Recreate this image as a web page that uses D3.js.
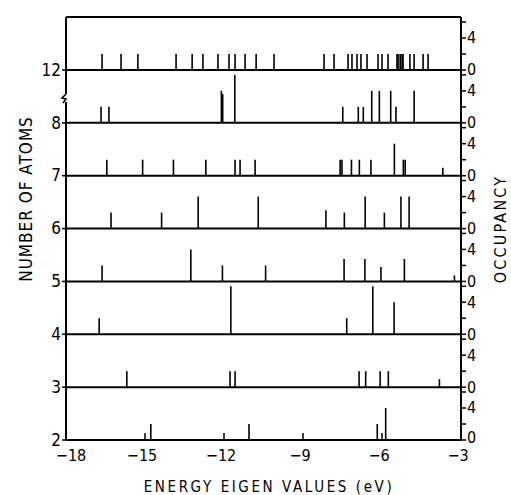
<!DOCTYPE html>
<html><head><meta charset="utf-8">
<script src="https://cdn.jsdelivr.net/npm/d3@7"></script>
<style>
html,body{margin:0;padding:0;background:#fff;}
svg{display:block;}
text{font-family:"Liberation Sans Narrow","DejaVu Sans Condensed","Liberation Sans",sans-serif;fill:#000;}
</style></head>
<body>
<svg id="chart" width="511" height="495"></svg>
<script>
// ---- data ----
const panels = ["12","8","7","6","5","4","3","2"];
const xTicks = [-18,-15,-12,-9,-6,-3];
const occTicks = [0,2,4,6];
const occLabels = [0,4];

const energy12 = [-16.63,-15.91,-15.27,-13.82,-13.21,-12.80,-12.23,-11.81,-11.58,-11.20,-10.78,-10.10,-8.20,-7.82,-7.29,-7.14,-6.95,-6.80,-6.57,-6.15,-6.00,-5.77,-5.43,-5.39,-5.31,-5.24,-5.20,-4.94,-4.78,-4.44,-4.25];
const occ12    = [2,2,2,2,2,2,2,2,2,2,2,2,2,2,2,2,2,2,2,2,2,2,2,2,2,2,2,2,2,2,2];
const energy8 = [-16.67,-16.37,-12.10,-12.05,-11.59,-7.49,-6.90,-6.71,-6.39,-6.10,-5.67,-5.47,-4.78];
const occ8    = [2,2,4,3.6,6,2,2,2,4,4,4,2,4];
const energy7 = [-16.45,-15.09,-13.92,-12.69,-11.58,-11.39,-10.82,-7.59,-7.52,-7.16,-6.86,-6.42,-5.53,-5.19,-5.12,-3.69];
const occ7    = [2,2,2,2,2,2,2,2,2,2,2,2,4,2,2,1];
const energy6 = [-16.29,-14.37,-12.98,-10.70,-8.13,-7.43,-6.64,-5.91,-5.28,-4.97];
const occ6    = [2,2,4,4,2.3,2,4,2,4,4];
const energy5 = [-16.63,-13.26,-12.06,-10.42,-7.44,-6.65,-6.04,-5.15,-3.25];
const occ5    = [2,4,2,2,2.8,2.8,1.8,2.8,0.75];
const energy4 = [-16.74,-11.74,-7.34,-6.35,-5.54];
const occ4    = [2,6,2,6,4];
const energy3 = [-15.69,-11.77,-11.58,-6.87,-6.62,-6.07,-5.76,-3.82];
const occ3    = [2,2,2,2,2,2,2,1];
const energy2 = [-14.78,-11.05,-6.18,-5.86];
const occ2    = [2,2,2,4];

const series = {
  "12": [energy12, occ12], "8": [energy8, occ8], "7": [energy7, occ7], "6": [energy6, occ6],
  "5": [energy5, occ5], "4": [energy4, occ4], "3": [energy3, occ3], "2": [energy2, occ2]
};

// ---- layout ----
const svg = d3.select("#chart");
const leftX = 66, rightX = 461, topY = 17, bottomY = 440;
const x = d3.scaleLinear().domain([-18,-3]).range([leftX, rightX]);
const yBase = d3.scalePoint().domain(panels).range([70, bottomY]);
const occ = d3.scaleLinear().domain([0,4]).range([0,32]);

const g = svg.append("g");

// frame
g.append("line").attr("x1",leftX).attr("x2",rightX).attr("y1",topY).attr("y2",topY)
  .attr("stroke","#000").attr("stroke-width",2);
g.append("line").attr("x1",rightX).attr("x2",rightX).attr("y1",topY).attr("y2",bottomY)
  .attr("stroke","#000").attr("stroke-width",2);
// left axis with break
const brk = 98;
g.append("line").attr("x1",leftX).attr("x2",leftX).attr("y1",topY).attr("y2",brk-4)
  .attr("stroke","#000").attr("stroke-width",2);
g.append("line").attr("x1",leftX).attr("x2",leftX).attr("y1",brk+4).attr("y2",bottomY)
  .attr("stroke","#000").attr("stroke-width",2);
g.append("path").attr("d",`M${leftX},${brk-4} L${leftX-4},${brk} L${leftX},${brk+1} L${leftX-3},${brk+5}`)
  .attr("fill","none").attr("stroke","#000").attr("stroke-width",1.6);

// panels
panels.forEach(p => {
  const yb = yBase(p);
  const pg = g.append("g").attr("transform",`translate(0,${yb})`);
  pg.append("line").attr("x1",leftX).attr("x2",rightX).attr("y1",0).attr("y2",0)
    .attr("stroke","#000").attr("stroke-width",2);
  const [es, os] = series[p];
  pg.selectAll("line.stick").data(es.map((e,i)=>({e, o:os[i]}))).enter().append("line")
    .attr("class","stick")
    .attr("x1",d=>x(d.e)).attr("x2",d=>x(d.e))
    .attr("y1",0).attr("y2",d=>-occ(d.o))
    .attr("stroke","#000").attr("stroke-width",1.6);
  // left tick + label
  pg.append("line").attr("x1",leftX-4).attr("x2",leftX).attr("y1",0).attr("y2",0)
    .attr("stroke","#000").attr("stroke-width",1.5);
  pg.append("text").attr("x",leftX-5).attr("y",0).attr("dy","0.34em")
    .attr("text-anchor","end").style("font-size","17px").text(p);
  // right ticks
  occTicks.forEach(t => {
    if (topY > yb - occ(t)) return;
    pg.append("line").attr("x1",rightX).attr("x2",rightX+5).attr("y1",-occ(t)).attr("y2",-occ(t))
      .attr("stroke","#000").attr("stroke-width",1.5);
  });
  occLabels.forEach(t => {
    pg.append("text").attr("x",rightX+6).attr("y",-occ(t) - (t===0 && p==="2" ? 2 : 0)).attr("dy","0.34em")
      .style("font-size","16px").text(t);
  });
});

// bottom axis ticks
xTicks.forEach((t,i) => {
  g.append("line").attr("x1",x(t)).attr("x2",x(t)).attr("y1",bottomY).attr("y2",bottomY-7)
    .attr("stroke","#000").attr("stroke-width",1.5);
  g.append("text").attr("x",x(t) + (i===0 ? 5 : -3)).attr("y",bottomY+16).attr("dy","0.34em")
    .attr("text-anchor","middle").style("font-size","16px").text("\u2212"+Math.abs(t));
});

// axis titles
svg.append("text").attr("x",269).attr("y",487).attr("dy","0.34em")
  .attr("text-anchor","middle").style("font-size","15px").style("letter-spacing","2.6px")
  .text("ENERGY EIGEN VALUES (eV)");
svg.append("text").attr("transform","translate(26,199) rotate(-90)").attr("dy","0.34em")
  .attr("text-anchor","middle").style("font-size","17px").style("letter-spacing","1px")
  .text("NUMBER OF ATOMS");
svg.append("text").attr("transform","translate(501,229) rotate(-90)").attr("dy","0.34em")
  .attr("text-anchor","middle").style("font-size","16px").style("letter-spacing","2.2px")
  .text("OCCUPANCY");
</script>
</body></html>
